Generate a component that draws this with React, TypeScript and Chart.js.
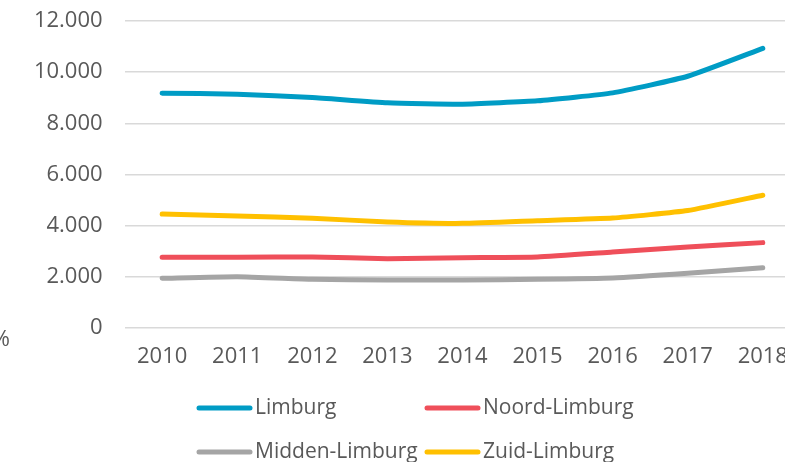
import React, { useEffect, useRef } from "react";
import { Chart, registerables } from "chart.js";

Chart.register(...registerables);

const years = ["2010", "2011", "2012", "2013", "2014", "2015", "2016", "2017", "2018"];
const limburg = [9180, 9140, 9010, 8800, 8750, 8880, 9190, 9840, 10930];
const noordLimburg = [2763, 2763, 2775, 2710, 2750, 2775, 2970, 3167, 3337];
const middenLimburg = [1943, 2006, 1904, 1877, 1877, 1904, 1955, 2139, 2358];
const zuidLimburg = [4457, 4380, 4290, 4145, 4090, 4195, 4300, 4590, 5190];
const seriesNames = ["Limburg", "Noord-Limburg", "Midden-Limburg", "Zuid-Limburg"];
const seriesColors = ["#009CC5", "#EF4F5A", "#A5A5A5", "#FFC000"];
const yMax = 12000;
const yStep = 2000;
const axisUnit = "%";

const FONT = "'Open Sans', 'Liberation Sans', Arial, sans-serif";
const TEXT = "#595959";

function fmt(v: number): string {
  const s = Math.round(v).toString();
  return s.replace(/\B(?=(\d{3})+(?!\d))/g, ".");
}

const legendPlugin = {
  id: "customLegend",
  afterDraw(chart: any) {
    const ctx = chart.ctx;
    ctx.save();
    ctx.font = `21px ${FONT}`;
    ctx.textBaseline = "middle";
    ctx.textAlign = "left";
    chart.data.datasets.forEach((ds: any, i: number) => {
      const col = i % 2;
      const row = Math.floor(i / 2);
      const x0 = 197 + col * 228;
      const y = 408 + row * 44;
      ctx.strokeStyle = ds.borderColor;
      ctx.lineWidth = 5;
      ctx.lineCap = "round";
      ctx.beginPath();
      ctx.moveTo(x0 + 2, y);
      ctx.lineTo(x0 + 53, y);
      ctx.stroke();
      ctx.fillStyle = TEXT;
      ctx.fillText(ds.label, x0 + 58, y);
    });
    // axis unit label
    ctx.font = `22px ${FONT}`;
    ctx.textAlign = "right";
    ctx.fillText(axisUnit, 10, 340);
    ctx.restore();
  },
};

export default function App() {
  const ref = useRef<HTMLCanvasElement | null>(null);
  useEffect(() => {
    if (!ref.current) return;
    const data = [limburg, noordLimburg, middenLimburg, zuidLimburg];
    const chart = new Chart(ref.current, {
      type: "line",
      data: {
        labels: years,
        datasets: data.map((d, i) => ({
          label: seriesNames[i],
          data: d,
          borderColor: seriesColors[i],
          backgroundColor: seriesColors[i],
          borderWidth: 5,
          borderCapStyle: "round",
          borderJoinStyle: "round",
          pointRadius: 0,
          tension: 0.15,
          fill: false,
        })),
      },
      options: {
        responsive: false,
        animation: false,
        layout: { padding: { top: 21, right: 1, bottom: 94, left: 0 } },
        plugins: { legend: { display: false }, tooltip: { enabled: false } },
        scales: {
          x: {
            offset: true,
            grid: { display: false, drawTicks: false },
            border: { display: false },
            ticks: { color: TEXT, font: { family: FONT, size: 22 }, padding: 16, maxRotation: 0 },
            afterFit: (s: any) => { s.height = 40; },
          },
          y: {
            min: 0,
            max: yMax,
            grid: { color: "#D9D9D9", lineWidth: 1.5, drawTicks: false },
            border: { display: false },
            ticks: {
              stepSize: yStep,
              color: TEXT,
              font: { family: FONT, size: 22 },
              padding: 22,
              callback: (v: any) => fmt(Number(v)),
            },
            afterFit: (s: any) => {
              s.width = 124.6;
              s.paddingTop = 0;
              s.paddingBottom = 0;
            },
          },
        },
      },
      plugins: [legendPlugin],
    });
    return () => chart.destroy();
  }, []);
  return (
    <div style={{ position: "fixed", left: 0, top: 0, width: 785, height: 462, overflow: "hidden", background: "#fff" }}>
      <canvas ref={ref} width={804} height={462} style={{ width: 804, height: 462, display: "block" }} />
    </div>
  );
}
